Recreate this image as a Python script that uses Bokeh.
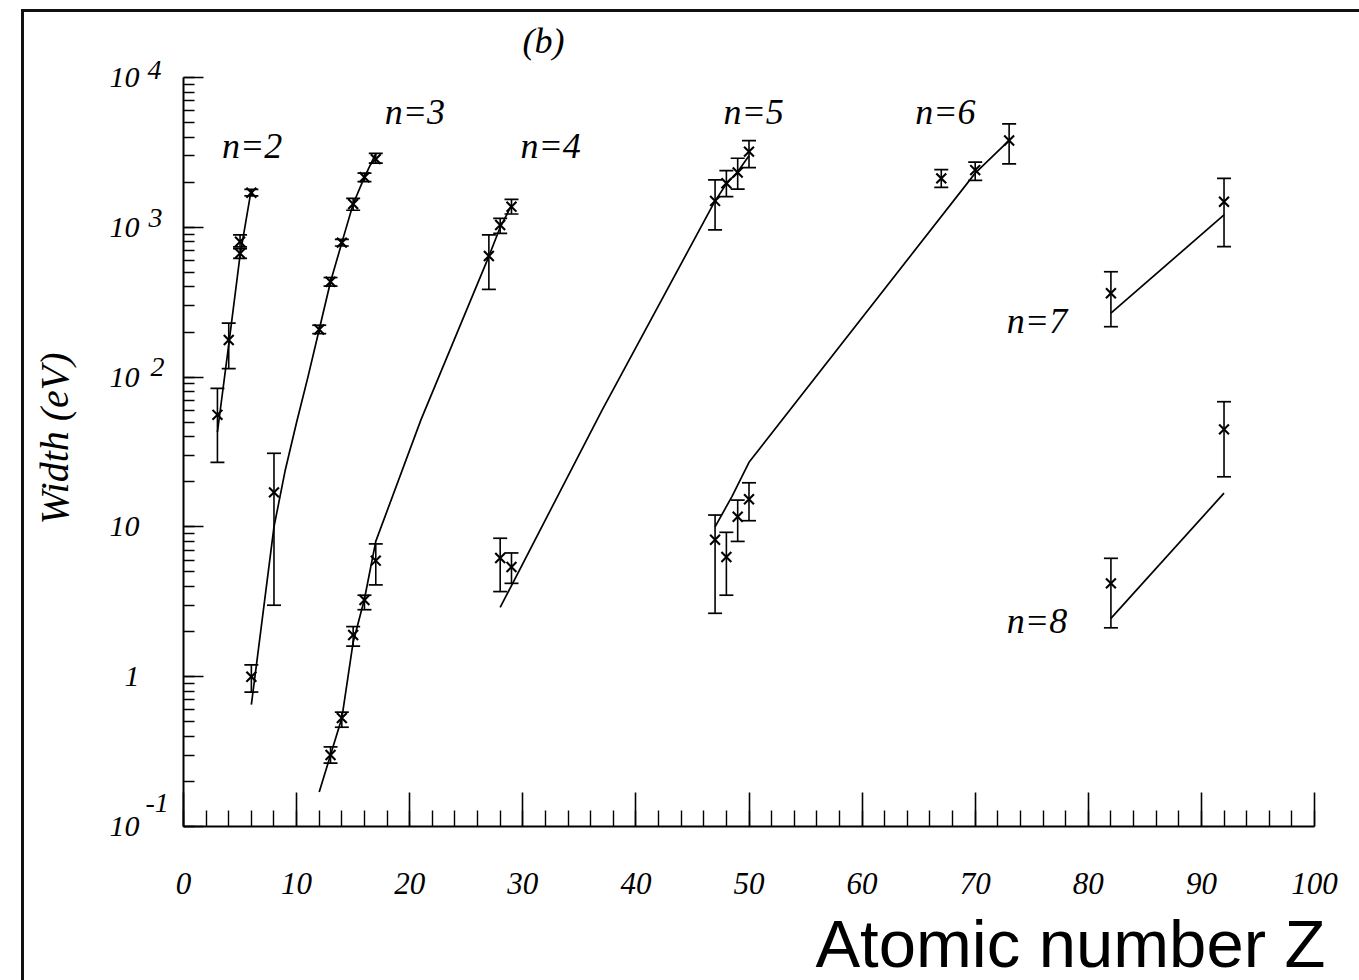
import math
from bokeh.plotting import figure
from bokeh.models import (Range1d, SingleIntervalTicker, LogTicker, Whisker, TeeHead,
                          ColumnDataSource, Label)
from bokeh.embed import file_html
from bokeh.resources import INLINE

# ---- measured widths (eV) with error limits, by principal quantum number n ----
n2_z = [3, 4, 5, 5, 6]
n2_w = [56, 177, 800, 670, 1700]
n2_lo = [27, 114, 740, 620, 1620]
n2_hi = [84, 229, 890, 720, 1790]

n3_z = [6, 8, 12, 13, 14, 15, 16, 17]
n3_w = [1.0, 17, 208, 433, 790, 1430, 2160, 2850]
n3_lo = [0.79, 3.0, 195, 405, 750, 1300, 2020, 2680]
n3_hi = [1.2, 31, 222, 462, 830, 1560, 2300, 3120]

n4_z = [13, 14, 15, 16, 17, 27, 28, 29]
n4_w = [0.30, 0.53, 1.9, 3.25, 5.95, 643, 1035, 1373]
n4_lo = [0.265, 0.46, 1.6, 2.8, 4.1, 385, 912, 1227]
n4_hi = [0.34, 0.58, 2.16, 3.5, 7.7, 889, 1148, 1538]

n5_z = [28, 29, 47, 48, 49, 50]
n5_w = [6.2, 5.4, 1500, 1970, 2320, 3200]
n5_lo = [3.7, 4.2, 960, 1600, 1800, 2500]
n5_hi = [8.4, 6.7, 2070, 2390, 2890, 3790]

n6_z = [47, 48, 49, 50, 67, 70, 73]
n6_w = [8.2, 6.3, 11.7, 15.3, 2120, 2410, 3800]
n6_lo = [2.65, 3.5, 8.0, 11.0, 1850, 2060, 2650]
n6_hi = [12.0, 9.2, 15.1, 19.7, 2430, 2720, 4900]

n7_z = [82, 92]
n7_w = [363, 1480]
n7_lo = [217, 742]
n7_hi = [505, 2124]

n8_z = [82, 92]
n8_w = [4.2, 44.8]
n8_lo = [2.12, 21.6]
n8_hi = [6.17, 68.5]

# ---- calculated width curves ----
c2_z = [3, 4, 5, 6]
c2_w = [43, 165, 650, 1800]
c3_z = [6, 8, 9, 10, 11, 12, 13, 14, 15, 16, 17]
c3_w = [0.65, 10, 24, 50, 100, 208, 433, 790, 1430, 2160, 3100]
c4_z = [12, 13, 14, 15, 16, 17, 21, 27, 28, 29]
c4_w = [0.17, 0.30, 0.53, 1.7, 3.3, 8.0, 52, 640, 1000, 1400]
c5_z = [28, 37, 47, 48, 49, 50]
c5_w = [2.9, 60, 1500, 1950, 2350, 3000]
c6_z = [47, 48.5, 50, 70, 73]
c6_w = [10, 16, 27, 2300, 3800]
c7_z = [82, 92]
c7_w = [267, 1210]
c8_z = [82, 92]
c8_w = [2.45, 16.8]

# ---- curve labels (left end, baseline) ----
lab_text = ["n=2", "n=3", "n=4", "n=5", "n=6", "n=7", "n=8"]
lab_z = [3.4, 17.8, 29.8, 47.75, 64.7, 72.8, 72.8]
lab_w = [2900, 4900, 2900, 4900, 4900, 197, 1.96]

# ---- y tick labels: mantissa on the axis, exponent drawn beside it ----
ytick_vals = [1e4, 1e3, 1e2, 10.0, 1.0, 0.1]
ytick_base = ["10", "10", "10", "10", "1", "10"]
ytick_exp = ["4", "3", "2", "", "", "-1"]

W, H = 1359, 980
FL, FR, FT, FB = 183, 1314, 77, 826   # plot frame edges in canvas pixels
X0, X1, YDEC0, YDEC1 = 0, 100, -1, 4
BASELINE_LIFT = 0.33                  # "alphabetic" anchor sits this many em below the baseline


def zx(px):
    """canvas x pixel -> data x"""
    return X0 + (px - FL) / (FR - FL) * (X1 - X0)


def wy(py):
    """canvas y pixel -> data y (log axis)"""
    return 10 ** (YDEC0 + (FB - py) / (FB - FT) * (YDEC1 - YDEC0))


SERIF = "Liberation Serif"

p = figure(width=W, height=H, x_range=Range1d(X0, X1),
           y_range=Range1d(10 ** YDEC0, 10 ** YDEC1),
           y_axis_type="log", output_backend="svg", toolbar_location=None,
           min_border_left=FL, min_border_right=W - FR,
           min_border_top=FT, min_border_bottom=H - FB)
p.outline_line_color = None
p.xgrid.grid_line_color = None
p.ygrid.grid_line_color = None
p.background_fill_color = "white"
p.border_fill_color = None
# page frame: top and left rules drawn behind the transparent canvas
p.styles = {
    "background-color": "white",
    "background-image": "linear-gradient(#111, #111), linear-gradient(#111, #111)",
    "background-size": "100% 3px, 3px 100%",
    "background-position": "21px 9px, 21px 9px",
    "background-repeat": "no-repeat",
}

# x axis
xa = p.xaxis[0]
xa.ticker = SingleIntervalTicker(interval=10, num_minor_ticks=5)
xa.axis_line_width = 2
xa.axis_line_color = "black"
xa.major_tick_in = 34
xa.major_tick_out = 0
xa.minor_tick_in = 16
xa.minor_tick_out = 0
xa.major_tick_line_width = 1.6
xa.minor_tick_line_width = 1.4
xa.major_tick_line_color = "black"
xa.minor_tick_line_color = "black"
xa.major_label_text_font = SERIF
xa.major_label_text_font_style = "italic"
xa.major_label_text_font_size = "31px"
xa.major_label_text_color = "black"
xa.major_label_standoff = 46

# y axis
ya = p.yaxis[0]
ya.ticker = LogTicker(num_minor_ticks=10)
ya.axis_line_width = 2
ya.axis_line_color = "black"
ya.major_tick_in = 20
ya.major_tick_out = 0
ya.minor_tick_in = 11
ya.minor_tick_out = 0
ya.major_tick_line_width = 1.6
ya.minor_tick_line_width = 1.4
ya.major_tick_line_color = "black"
ya.minor_tick_line_color = "black"
ya.major_label_overrides = dict(zip(ytick_vals, ytick_base))
ya.major_label_text_font = SERIF
ya.major_label_text_font_style = "italic"
ya.major_label_text_font_size = "30px"
ya.major_label_text_color = "black"
ya.major_label_standoff = 44

# calculated curves
for cz, cw in [(c2_z, c2_w), (c3_z, c3_w), (c4_z, c4_w), (c5_z, c5_w),
               (c6_z, c6_w), (c7_z, c7_w), (c8_z, c8_w)]:
    p.line(cz, cw, line_color="black", line_width=1.7)

# measured points with error bars
for z, w, lo, hi in [(n2_z, n2_w, n2_lo, n2_hi), (n3_z, n3_w, n3_lo, n3_hi),
                     (n4_z, n4_w, n4_lo, n4_hi), (n5_z, n5_w, n5_lo, n5_hi),
                     (n6_z, n6_w, n6_lo, n6_hi), (n7_z, n7_w, n7_lo, n7_hi),
                     (n8_z, n8_w, n8_lo, n8_hi)]:
    src = ColumnDataSource(dict(z=z, w=w, lo=lo, hi=hi))
    p.add_layout(Whisker(source=src, base="z", lower="lo", upper="hi",
                         dimension="height", line_color="black", line_width=1.6,
                         lower_head=TeeHead(size=14, line_width=1.7, line_color="black"),
                         upper_head=TeeHead(size=14, line_width=1.7, line_color="black")))
    p.scatter("z", "w", source=src, marker="x", size=14, line_color="black",
              line_width=2.1)

# n labels
N_FS = 36
for t, lz, lw in zip(lab_text, lab_z, lab_w):
    p.add_layout(Label(x=lz, y=lw, y_offset=round(BASELINE_LIFT * N_FS), text=t,
                       text_align="left", text_baseline="alphabetic",
                       text_font=SERIF, text_font_style="italic",
                       text_font_size=f"{N_FS}px", text_color="black"))

# Texts outside the frame live in side panels (not clipped); their positions are
# given in data units, so the panel only matters for the space it reserves.
exp_left = [147, 148, 150, 0, 0, 145]
exp_dy = [8, 9, 10, 0, 0, 24]
exp_side = ["right", "right", "left", None, None, "left"]
for val, ex, ex_x, dy, side in zip(ytick_vals, ytick_exp, exp_left, exp_dy, exp_side):
    if not ex:
        continue
    p.add_layout(Label(x=zx(ex_x), y=val, y_offset=dy, text=ex, text_align="left",
                       text_baseline="middle", text_font=SERIF,
                       text_font_style="italic", text_font_size="28px",
                       text_color="black"), side)

p.add_layout(Label(x=zx(54), y=wy(438), text="Width (eV)", angle=math.pi / 2,
                   text_align="center", text_baseline="middle", text_font=SERIF,
                   text_font_style="italic", text_font_size="40px",
                   text_color="black"), "left")

p.add_layout(Label(x=zx(543), y=wy(40), text="(b)", text_align="center",
                   text_baseline="middle", text_font=SERIF, text_font_style="italic",
                   text_font_size="36px", text_color="black"), "below")

Z_FS = 67
p.add_layout(Label(x=zx(1325), y=wy(965), y_offset=round(BASELINE_LIFT * Z_FS),
                   text="Atomic number Z", text_align="right",
                   text_baseline="alphabetic", text_font="Liberation Sans",
                   text_font_size=f"{Z_FS}px", text_color="black"), "above")

open("out.html", "w").write(file_html(p, INLINE))
